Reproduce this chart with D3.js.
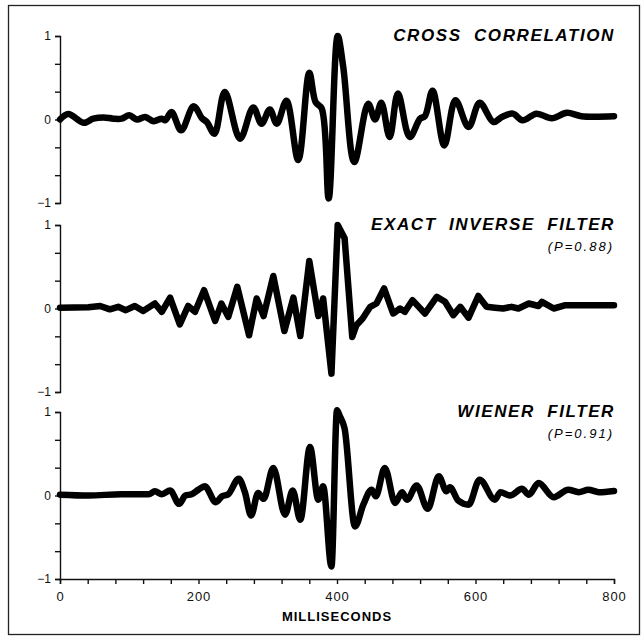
<!DOCTYPE html>
<meta charset="utf-8">
<style>
body { margin: 0; background: #fff; }
svg { font-family: "Liberation Sans", Arial, sans-serif; }
.trace { fill: none; stroke: #000; stroke-width: 6.5px; stroke-linejoin: round; stroke-linecap: round; }
.axis path, .axis line { stroke: #111; stroke-width: 1.4px; }
.axis text { font-size: 12px; fill: #111; }
.title { font-weight: bold; font-style: italic; font-size: 17px; letter-spacing: 1.6px; word-spacing: 6px; }
.sub { font-style: italic; font-size: 13px; letter-spacing: 2px; }
</style>
<svg width="642" height="644"></svg>
<script src="https://d3js.org/d3.v7.min.js"></script>
<script>

// cross correlation (ms, amplitude)
const crossT = [0, 12, 34, 48, 63, 77, 89, 100, 111, 123, 135, 147, 152, 161, 175, 193, 205, 212, 223, 238, 260, 279, 291, 303, 313, 327, 344, 360, 369, 378, 388, 401, 409, 425, 445, 455, 464, 476, 488, 505, 520, 527, 538, 555, 571, 590, 606, 626, 638, 654, 668, 688, 710, 732, 753, 800];
const crossV = [0, 0.066, -0.04, 0.01, 0.025, 0.01, 0.01, 0.05, 0, 0.03, -0.02, 0.01, -0.01, 0.09, -0.13, 0.16, 0.015, -0.03, -0.17, 0.33, -0.23, 0.145, -0.05, 0.12, -0.05, 0.225, -0.485, 0.56, 0.21, 0.13, -0.945, 1.0, 0.63, -0.51, 0.19, 0.0, 0.2, -0.21, 0.31, -0.21, 0.01, 0.04, 0.345, -0.31, 0.23, -0.09, 0.2, -0.03, 0.03, 0.07, -0.01, 0.07, 0.015, 0.08, 0.04, 0.04];

// exact inverse filter
const exactT = [0, 41, 58, 72, 84, 95, 108, 120, 137, 147, 159, 173, 185, 195, 208, 224, 233, 243, 256, 273, 284, 294, 308, 324, 337, 347, 360, 373, 380, 392, 401, 411, 422, 428, 437, 448, 457, 468, 481, 491, 498, 509, 527, 544, 556, 568, 578, 590, 604, 616, 628, 640, 652, 662, 677, 691, 696, 713, 730, 800];
const exactV = [0.01, 0.015, 0.03, -0.01, 0.02, -0.02, 0.03, -0.03, 0.06, -0.04, 0.13, -0.19, 0.03, -0.04, 0.22, -0.15, 0.06, -0.1, 0.26, -0.32, 0.12, -0.09, 0.39, -0.27, 0.13, -0.33, 0.57, -0.09, 0.12, -0.78, 1.0, 0.84, -0.34, -0.2, -0.12, 0.02, 0.06, 0.24, -0.06, 0.0, -0.04, 0.1, -0.06, 0.14, 0.08, -0.08, 0.02, -0.11, 0.15, 0.02, 0.01, 0.0, 0.02, 0.0, 0.06, 0.03, 0.08, 0.0, 0.04, 0.04];

// wiener filter
const wienerT = [0, 41, 89, 128, 137, 147, 159, 172, 181, 190, 200, 209, 225, 234, 243, 258, 267, 276, 286, 294, 308, 325, 336, 347, 361, 373, 380, 392, 400, 404, 411, 426, 438, 450, 456, 469, 484, 494, 501, 515, 531, 547, 558, 563, 575, 590, 606, 628, 636, 650, 667, 677, 691, 713, 734, 749, 763, 778, 800];
const wienerV = [0.01, 0.0, 0.015, 0.015, 0.05, 0.015, 0.06, -0.1, 0.0, 0.015, 0.07, 0.11, -0.08, -0.01, 0.015, 0.2, 0.04, -0.24, 0.03, -0.04, 0.33, -0.23, 0.06, -0.29, 0.58, -0.05, 0.11, -0.85, 1.02, 0.95, 0.8, -0.37, -0.11, 0.07, -0.01, 0.33, -0.09, 0.04, -0.05, 0.12, -0.16, 0.23, 0.05, 0.1, -0.06, -0.11, 0.19, -0.05, 0.04, 0.0, 0.08, 0.01, 0.15, -0.02, 0.07, 0.04, 0.07, 0.04, 0.055];

const titles = ["CROSS CORRELATION", "EXACT INVERSE FILTER", "WIENER FILTER"];
const subtitles = ["", "(P=0.88)", "(P=0.91)"];
const yTicks = [-1, -2/3, -1/3, 0, 1/3, 2/3, 1];
const xTicks = d3.range(0, 801, 40);
const xLabels = [0, 200, 400, 600, 800];

const panelTop = [36, 225, 412],
      panelH = 167;
const left = 60, right = 614;

var svg = d3.select("svg");

svg.append("rect")
    .attr("x", 8.5).attr("y", 5.5)
    .attr("width", 631).attr("height", 629)
    .attr("fill", "none").attr("stroke", "#222").attr("stroke-width", 1.3);

var x = d3.scaleLinear().domain([0, 800]).range([left, right]);

var series = [
  {t: crossT, v: crossV, curve: d3.curveCatmullRom.alpha(0.5)},
  {t: exactT, v: exactV, curve: d3.curveLinear},
  {t: wienerT, v: wienerV, curve: d3.curveMonotoneX}
];

series.forEach(function(s, i) {
  var y = d3.scaleLinear().domain([-1, 1]).range([panelTop[i] + panelH, panelTop[i]]);
  var g = svg.append("g");

  g.append("g")
      .attr("class", "axis")
      .attr("transform", "translate(" + left + ",0)")
      .call(d3.axisLeft(y).tickValues(yTicks).tickSize(5).tickPadding(4)
        .tickFormat(function(d) { return Math.abs(d - Math.round(d)) < 1e-6 ? d3.format("d")(Math.round(d)).replace("-", "\u2212") : ""; }));

  var line = d3.line()
      .x(function(d, k) { return x(s.t[k]); })
      .y(function(d) { return y(d); })
      .curve(s.curve);

  g.append("path")
      .datum(s.v)
      .attr("class", "trace")
      .attr("d", line);

  g.append("text")
      .attr("class", "title")
      .attr("x", right + 1)
      .attr("y", panelTop[i] + 5)
      .attr("text-anchor", "end")
      .text(titles[i]);

  if (subtitles[i]) {
    g.append("text")
        .attr("class", "sub")
        .attr("x", right)
        .attr("y", panelTop[i] + 26)
        .attr("text-anchor", "end")
        .text(subtitles[i]);
  }

  if (i == 2) {
    var xa = g.append("g")
        .attr("class", "axis")
        .attr("transform", "translate(0," + (panelTop[i] + panelH) + ")")
        .call(d3.axisBottom(x).tickValues(xTicks).tickSize(5).tickPadding(8)
          .tickFormat(function(d) { return xLabels.indexOf(d) >= 0 ? d : ""; }));
    xa.selectAll("text").style("font-size", "13px").style("letter-spacing", "1px");

    g.append("text")
        .attr("x", (left + right) / 2)
        .attr("y", panelTop[i] + panelH + 42)
        .attr("text-anchor", "middle")
        .style("font-weight", "bold")
        .style("font-size", "13px")
        .style("letter-spacing", "1px")
        .text("MILLISECONDS");
  }
});

</script>
